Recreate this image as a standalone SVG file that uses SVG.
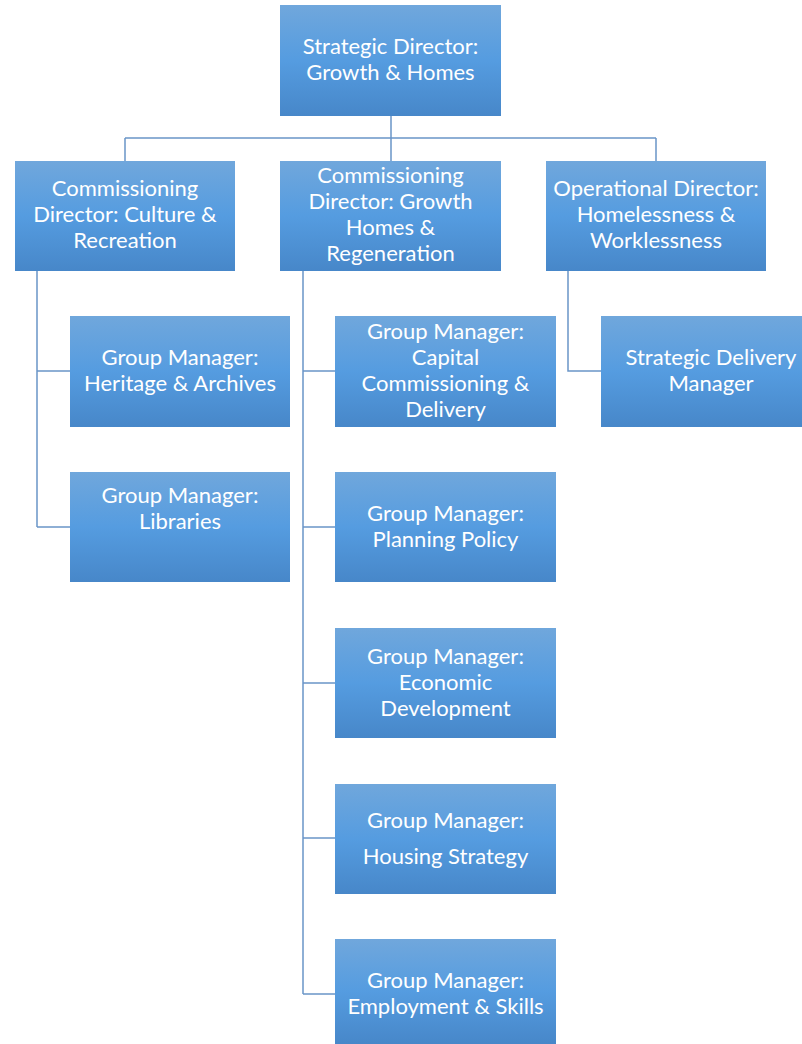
<svg xmlns="http://www.w3.org/2000/svg" width="802" height="1044" viewBox="0 0 802 1044">
<defs>
<linearGradient id="g" x1="0" y1="0" x2="0" y2="1">
<stop offset="0" stop-color="#70a7dc"/>
<stop offset="0.5" stop-color="#559ce0"/>
<stop offset="1" stop-color="#4787c9"/>
</linearGradient>
</defs>
<style>
.box{fill:url(#g);}
.t{font-family:Lato,"Liberation Sans",sans-serif;font-size:22px;fill:#ffffff;text-anchor:middle;}
.c{fill:none;stroke:#6a95c8;stroke-width:1.5;}
</style>
<rect width="802" height="1044" fill="#ffffff"/>
<g id="connectors">
<path class="c" d="M391 116V138M125 138H656M125 138V161M391 138V161M656 138V161"/>
<path class="c" d="M37 271V527M37 371H70M37 527H70"/>
<path class="c" d="M303 271V994M303 371H335M303 527H335M303 683H335M303 838H335M303 994H335"/>
<path class="c" d="M568 271V371H601"/>
</g>
<g id="n-top"><rect class="box" x="280" y="5" width="221" height="111"/><text class="t" x="390.5"><tspan x="390.5" y="54">Strategic Director:</tspan><tspan x="390.5" y="80">Growth &amp; Homes</tspan></text></g>
<g id="n-culture"><rect class="box" x="15" y="161" width="220" height="110"/><text class="t"><tspan x="125" y="196">Commissioning</tspan><tspan x="125" y="222">Director: Culture &amp;</tspan><tspan x="125" y="248">Recreation</tspan></text></g>
<g id="n-growth"><rect class="box" x="280" y="161" width="221" height="110"/><text class="t"><tspan x="390.5" y="183">Commissioning</tspan><tspan x="390.5" y="209">Director: Growth</tspan><tspan x="390.5" y="235">Homes &amp;</tspan><tspan x="390.5" y="261">Regeneration</tspan></text></g>
<g id="n-oper"><rect class="box" x="546" y="161" width="220" height="110"/><text class="t"><tspan x="656" y="196">Operational Director:</tspan><tspan x="656" y="222">Homelessness &amp;</tspan><tspan x="656" y="248">Worklessness</tspan></text></g>
<g id="n-heritage"><rect class="box" x="70" y="316" width="220" height="111"/><text class="t"><tspan x="180" y="365">Group Manager:</tspan><tspan x="180" y="391">Heritage &amp; Archives</tspan></text></g>
<g id="n-libraries"><rect class="box" x="70" y="472" width="220" height="110"/><text class="t"><tspan x="180" y="503">Group Manager:</tspan><tspan x="180" y="529">Libraries</tspan></text></g>
<g id="n-capital"><rect class="box" x="335" y="316" width="221" height="111"/><text class="t"><tspan x="445.5" y="339">Group Manager:</tspan><tspan x="445.5" y="365">Capital</tspan><tspan x="445.5" y="391">Commissioning &amp;</tspan><tspan x="445.5" y="417">Delivery</tspan></text></g>
<g id="n-planning"><rect class="box" x="335" y="472" width="221" height="110"/><text class="t"><tspan x="445.5" y="521">Group Manager:</tspan><tspan x="445.5" y="547">Planning Policy</tspan></text></g>
<g id="n-economic"><rect class="box" x="335" y="628" width="221" height="110"/><text class="t"><tspan x="445.5" y="664">Group Manager:</tspan><tspan x="445.5" y="690">Economic</tspan><tspan x="445.5" y="716">Development</tspan></text></g>
<g id="n-housing"><rect class="box" x="335" y="784" width="221" height="110"/><text class="t"><tspan x="445.5" y="828">Group Manager:</tspan><tspan x="445.5" y="864">Housing Strategy</tspan></text></g>
<g id="n-employment"><rect class="box" x="335" y="939" width="221" height="105"/><text class="t"><tspan x="445.5" y="988">Group Manager:</tspan><tspan x="445.5" y="1014">Employment &amp; Skills</tspan></text></g>
<g id="n-sdm"><rect class="box" x="601" y="316" width="221" height="111"/><text class="t"><tspan x="711" y="365">Strategic Delivery</tspan><tspan x="711" y="391">Manager</tspan></text></g>
</svg>
